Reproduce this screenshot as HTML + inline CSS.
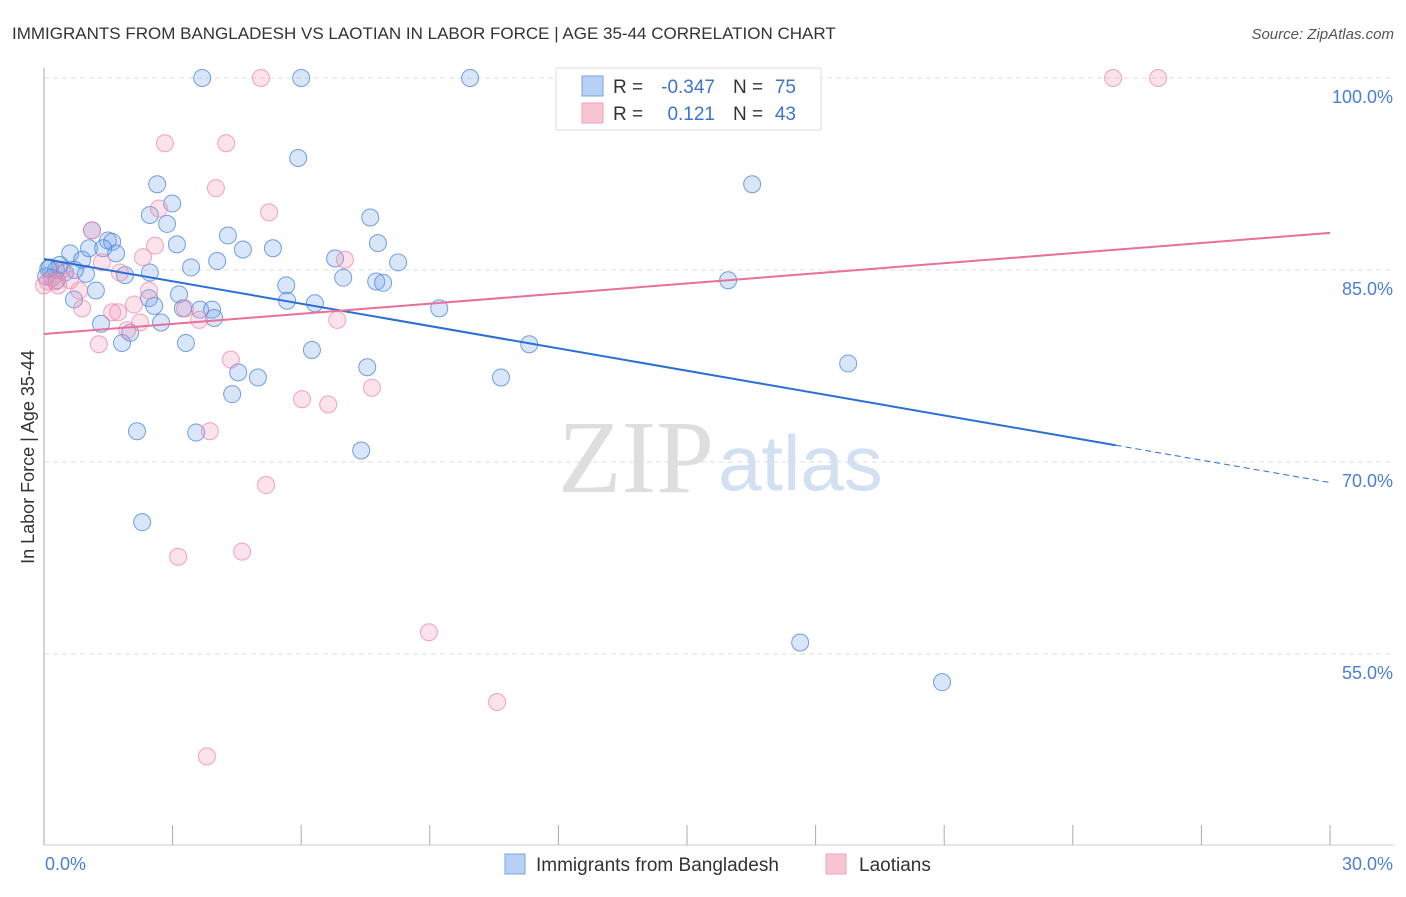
<!DOCTYPE html>
<html><head><meta charset="utf-8"><style>
body{margin:0;background:#fff;font-family:"Liberation Sans",sans-serif;}
svg text{font-family:"Liberation Sans",sans-serif;}
</style></head><body>
<svg id="c" width="1406" height="892">
<text x="12" y="39" font-size="17" fill="#333">IMMIGRANTS FROM BANGLADESH VS LAOTIAN IN LABOR FORCE | AGE 35-44 CORRELATION CHART</text>
<text x="1394" y="39" font-size="15" fill="#555" text-anchor="end" font-style="italic">Source: ZipAtlas.com</text>
<text x="714" y="492" font-size="104" fill="#dedede" text-anchor="end" style="font-family:'Liberation Serif',serif">ZIP</text>
<text x="718" y="490" font-size="78" fill="#d3e0f2">atlas</text>
<text transform="translate(34,457) rotate(-90)" font-size="18" fill="#333" text-anchor="middle">In Labor Force | Age 35-44</text>
<g id="grid"></g><g id="pts"></g><g id="lines"></g>
<g>
<rect x="556" y="68" width="265" height="62" fill="#fff" stroke="#ddd"/>
<rect x="582" y="76" width="21" height="20" fill="#b7d0f5" stroke="#7aa3e0"/>
<rect x="582" y="103" width="21" height="20" fill="#f8c5d5" stroke="#eea0b8"/>
<text x="613" y="93" font-size="19" fill="#333">R = </text><text x="715" y="93" font-size="19" fill="#3b75d0" text-anchor="end">-0.347</text>
<text x="733" y="93" font-size="19" fill="#333">N = </text><text x="796" y="93" font-size="19" fill="#3b75d0" text-anchor="end">75</text>
<text x="613" y="120" font-size="19" fill="#333">R = </text><text x="715" y="120" font-size="19" fill="#3b75d0" text-anchor="end">0.121</text>
<text x="733" y="120" font-size="19" fill="#333">N = </text><text x="796" y="120" font-size="19" fill="#3b75d0" text-anchor="end">43</text>
</g>
<g>
<rect x="505" y="854" width="20" height="20" fill="#b7d0f5" stroke="#7aa3e0"/>
<text x="536" y="871" font-size="19" fill="#333">Immigrants from Bangladesh</text>
<rect x="826" y="854" width="20" height="20" fill="#f8c5d5" stroke="#eea0b8"/>
<text x="859" y="871" font-size="19" fill="#333">Laotians</text>
</g>
</svg>
<script>
const yTicks=[100,85,70,55];
const yTickLabels=["100.0%","85.0%","70.0%","55.0%"];
const xTickLabels=["0.0%","30.0%"];
const blueX=[3.69,6.00,9.94,5.93,2.64,16.52,2.99,2.47,2.87,7.61,1.12,1.49,1.59,7.79,4.29,3.10,4.64,5.34,0.61,1.05,1.68,1.38,6.79,8.26,4.04,3.43,0.37,0.14,0.89,1.89,0.98,6.98,7.75,7.91,15.96,5.65,1.21,0.70,2.45,3.15,5.67,6.32,2.57,3.24,3.64,3.92,3.97,9.22,2.73,1.33,2.01,3.31,1.82,11.32,6.25,7.54,18.76,4.53,4.99,10.66,4.39,2.17,3.55,7.40,2.29,17.64,20.95,0.28,0.49,0.19,0.72,2.47,0.05,0.3,0.1];
const blueY=[100,100,100,93.75,91.7,91.7,90.2,89.3,88.6,89.1,88.1,87.3,87.2,87.1,87.7,87.0,86.6,86.7,86.3,86.7,86.3,86.7,85.9,85.6,85.7,85.2,85.4,85.2,85.8,84.6,84.7,84.4,84.1,84.0,84.2,83.8,83.4,82.7,82.8,83.1,82.6,82.4,82.2,82.0,81.9,81.9,81.25,82.0,80.9,80.8,80.1,79.3,79.3,79.2,78.75,77.4,77.7,77.0,76.6,76.6,75.3,72.4,72.3,70.9,65.3,55.9,52.8,85.0,84.8,84.4,85.0,84.8,84.5,84.2,85.1];
const pinkX=[5.06,24.94,25.99,2.82,4.25,4.01,5.25,2.68,1.12,2.59,7.02,2.31,1.35,0.42,0.09,0.33,0.82,2.45,2.10,0.89,1.59,1.73,3.29,3.62,6.84,2.24,1.94,1.28,4.36,7.65,6.02,6.63,3.87,5.18,3.13,4.62,8.98,10.57,3.80,0.26,0.0,0.61,1.77];
const pinkY=[100,100,100,94.9,94.9,91.4,89.5,89.8,88.1,86.9,85.8,86.0,85.6,85.0,84.1,83.8,83.4,83.4,82.3,82.0,81.7,81.7,82.0,81.1,81.1,80.9,80.3,79.2,78.0,75.8,74.9,74.5,72.4,68.2,62.6,63.0,56.7,51.25,47.0,84.1,83.8,84.2,84.8];
const blueTrend=[85.86,68.4]; const blueSolidEnd=25;
const pinkTrend=[80.0,87.9];
const NS="http://www.w3.org/2000/svg";
const X=v=>44+v/30*1286, Y=v=>78+(100-v)*12.8;
function mk(t,a,p){const e=document.createElementNS(NS,t);for(const k in a)e.setAttribute(k,a[k]);p.appendChild(e);return e;}
const g=document.getElementById('grid');
yTicks.forEach((t,i)=>{
 const l=mk('line',{x1:44,x2:1394,y1:Y(t),y2:Y(t),stroke:'#ddd','stroke-dasharray':'5,4'},g);
 
 
 const tx=mk('text',{x:1393,y:Y(t)+25,'font-size':18,fill:'#4a7fd4','text-anchor':'end'},g);tx.textContent=yTickLabels[i];
 
 
});
const ax=mk('line',{x1:44,x2:44,y1:68,y2:845,stroke:'#aaa'},g);


const bx=mk('line',{x1:44,x2:1394,y1:845,y2:845,stroke:'#ccc'},g);


for(let i=0;i<=10;i++){const t=mk('line',{x1:X(i*3),x2:X(i*3),y1:825,y2:845,stroke:'#aaa'},g);
 
 }
[[0,45,'start'],[30,1393,'end']].forEach((d,i)=>{const t=mk('text',{x:d[1],y:870,'font-size':18,fill:'#4a7fd4','text-anchor':d[2]},g);t.textContent=xTickLabels[i];
 
 });
const p=document.getElementById('pts');
blueX.forEach((x,i)=>{const c=mk('circle',{cx:X(x),cy:Y(blueY[i]),r:8.5,fill:'rgba(120,165,235,0.28)',stroke:'rgba(70,130,220,0.75)','stroke-width':1},p);
 
 });
pinkX.forEach((x,i)=>{const c=mk('circle',{cx:X(x),cy:Y(pinkY[i]),r:8.5,fill:'rgba(245,150,180,0.28)',stroke:'rgba(235,130,165,0.7)','stroke-width':1},p);
 
 });
const L=document.getElementById('lines');
const by=v=>blueTrend[0]+(blueTrend[1]-blueTrend[0])*v/30;
let l1=mk('line',{x1:X(0),y1:Y(by(0)),x2:X(blueSolidEnd),y2:Y(by(blueSolidEnd)),stroke:'#2a6fd6','stroke-width':2},L);


let l2=mk('line',{x1:X(blueSolidEnd),y1:Y(by(blueSolidEnd)),x2:X(30),y2:Y(by(30)),stroke:'#2a6fd6','stroke-width':1,'stroke-dasharray':'6,4'},L);


let l3=mk('line',{x1:X(0),y1:Y(pinkTrend[0]),x2:X(30),y2:Y(pinkTrend[1]),stroke:'#e8709a','stroke-width':2},L);


</script>
</body></html>
